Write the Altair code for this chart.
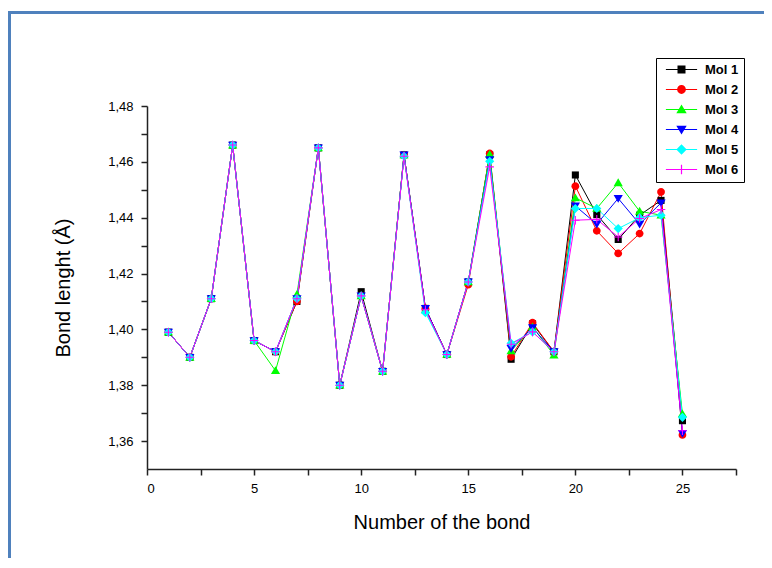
import altair as alt
import pandas as pd

bond = list(range(1, 26))
series = ["Mol 1", "Mol 2", "Mol 3", "Mol 4", "Mol 5", "Mol 6"]
colors = ["#000000", "#ff0000", "#00ff00", "#0000ff", "#00ffff", "#ff00ff"]

mol1 = [1.399, 1.390, 1.411, 1.466, 1.396, 1.392, 1.410, 1.465, 1.380, 1.4135,
        1.385, 1.4625, 1.4075, 1.391, 1.417, 1.4625, 1.3893, 1.4020, 1.392, 1.4553,
        1.4411, 1.4322, 1.4409, 1.4462, 1.3673]
mol2 = [1.399, 1.390, 1.411, 1.466, 1.396, 1.392, 1.410, 1.465, 1.380, 1.412,
        1.385, 1.4625, 1.4075, 1.391, 1.416, 1.463, 1.3902, 1.4024, 1.392, 1.4513,
        1.4353, 1.4272, 1.4343, 1.4492, 1.3622]
mol3 = [1.399, 1.390, 1.411, 1.466, 1.396, 1.3852, 1.4125, 1.465, 1.380, 1.412,
        1.385, 1.4625, 1.407, 1.391, 1.417, 1.4627, 1.3923, 1.4009, 1.3908, 1.4471,
        1.4433, 1.4525, 1.4423, 1.4409, 1.3697]
mol4 = [1.399, 1.390, 1.411, 1.466, 1.396, 1.392, 1.411, 1.465, 1.380, 1.412,
        1.385, 1.4625, 1.4075, 1.391, 1.417, 1.4608, 1.3932, 1.4006, 1.392, 1.4442,
        1.4377, 1.4469, 1.4377, 1.4453, 1.3628]
mol5 = [1.399, 1.390, 1.411, 1.466, 1.396, 1.392, 1.411, 1.465, 1.380, 1.412,
        1.385, 1.462, 1.406, 1.391, 1.417, 1.4602, 1.395, 1.3991, 1.392, 1.4433,
        1.4433, 1.4361, 1.440, 1.4409, 1.3685]
mol6 = [1.399, 1.390, 1.411, 1.466, 1.396, 1.392, 1.411, 1.465, 1.380, 1.412,
        1.385, 1.462, 1.407, 1.391, 1.417, 1.4582, 1.3947, 1.3991, 1.392, 1.4391,
        1.4394, 1.4331, 1.4397, 1.4429, 1.3637]

x_ticks = [0, 2.5, 5, 7.5, 10, 12.5, 15, 17.5, 20, 22.5, 25, 27.5]
y_ticks = [1.36, 1.37, 1.38, 1.39, 1.40, 1.41, 1.42, 1.43, 1.44, 1.45, 1.46, 1.47, 1.48]

# marker shapes (unit paths)
markers = [
    "M-1,-1H1V1H-1Z",
    "M1.1,0A1.1,1.1 0 1,1 -1.1,0A1.1,1.1 0 1,1 1.1,0Z",
    "M0,-1.25L1.3,0.95H-1.3Z",
    "M0,1.25L-1.3,-0.95H1.3Z",
    "M0,-1.3L1.3,0L0,1.3L-1.3,0Z",
    "M-1.2,-0.15H1.2V0.15H-1.2Z M-0.15,-1.2H0.15V1.2H-0.15Z",
]
line_seg = "M-3.9,-0.13H3.9V0.13H-3.9Z "
legend_paths = [line_seg + m for m in markers]

rows = []
for i, (name, vals) in enumerate(zip(series, [mol1, mol2, mol3, mol4, mol5, mol6])):
    for b, v in zip(bond, vals):
        rows.append({"bond": b, "length": v, "series": name, "order": i})
df = pd.DataFrame(rows)

FONT = "Arial, Liberation Sans"

x_enc = alt.X(
    "bond:Q",
    scale=alt.Scale(domain=[0, 27.5], nice=False, zero=False),
    axis=alt.Axis(
        values=x_ticks,
        labelExpr="datum.value % 5 == 0 ? format(datum.value, 'd') : ''",
        title="Number of the bond",
        grid=False,
    ),
)
y_enc = alt.Y(
    "length:Q",
    scale=alt.Scale(domain=[1.35, 1.48], nice=False, zero=False),
    axis=alt.Axis(
        values=y_ticks,
        labelExpr="round(datum.value * 100) % 2 == 0 ? replace(format(datum.value, '.2f'), '.', ',') : ''",
        title="Bond lenght (Å)",
        grid=False,
    ),
)

frame = alt.Chart(pd.DataFrame({"a": [0]})).mark_rect(
    fillOpacity=0, stroke="#4F81BD", strokeWidth=3
).encode(
    x=alt.value(-137.5), x2=alt.value(1000), y=alt.value(-93.5), y2=alt.value(1000)
)

lines = alt.Chart(df).mark_line(strokeWidth=1).encode(
    x=x_enc,
    y=y_enc,
    color=alt.Color("series:N", scale=alt.Scale(domain=series, range=colors), legend=None),
    detail="series:N",
    order="bond:Q",
)

points = alt.Chart(df).mark_point(filled=True, size=50, opacity=1, strokeWidth=0).encode(
    x=x_enc,
    y=y_enc,
    color=alt.Color("series:N", scale=alt.Scale(domain=series, range=colors), legend=None),
    shape=alt.Shape("series:N", scale=alt.Scale(domain=series, range=markers), legend=None),
    order=alt.Order("order:Q"),
)

leg = alt.Legend(
    title=None,
    orient="none",
    legendX=509,
    legendY=-48,
    padding=5,
    strokeColor="#000000",
    fillColor="#ffffff",
    labelFont=FONT,
    labelFontSize=13,
    labelFontWeight="bold",
    labelColor="#000000",
    symbolOffset=14,
    labelOffset=17,
    rowPadding=6,
    symbolStrokeWidth=0,
    symbolSize=64,
)

legend_layer = alt.Chart(df).transform_filter("datum.bond < 0").mark_point(
    filled=True, size=64, opacity=1, strokeWidth=0
).encode(
    x=x_enc,
    y=y_enc,
    color=alt.Color("series:N", scale=alt.Scale(domain=series, range=colors), legend=leg),
    shape=alt.Shape("series:N", scale=alt.Scale(domain=series, range=legend_paths), legend=leg),
)

chart = alt.layer(frame, lines, points, legend_layer).resolve_scale(
    color="independent", shape="independent"
).properties(
    width=589,
    height=363,
    autosize=alt.AutoSizeParams(type="none"),
    padding={"left": 139, "top": 98, "right": 28, "bottom": 89},
    background="#ffffff",
).configure_view(stroke=None).configure_axis(
    labelFont=FONT,
    labelFontSize=13,
    labelColor="#000000",
    titleFont=FONT,
    titleFontSize=20,
    titleFontWeight="normal",
    titleColor="#000000",
    domainColor="#222222",
    domainWidth=1.5,
    tickColor="#222222",
    tickWidth=1.5,
    tickSize=6,
).configure_axisX(titlePadding=17, labelPadding=7).configure_axisY(titlePadding=34, labelPadding=8)

chart.save("out.html", embed_options={"renderer": "svg", "actions": False})
